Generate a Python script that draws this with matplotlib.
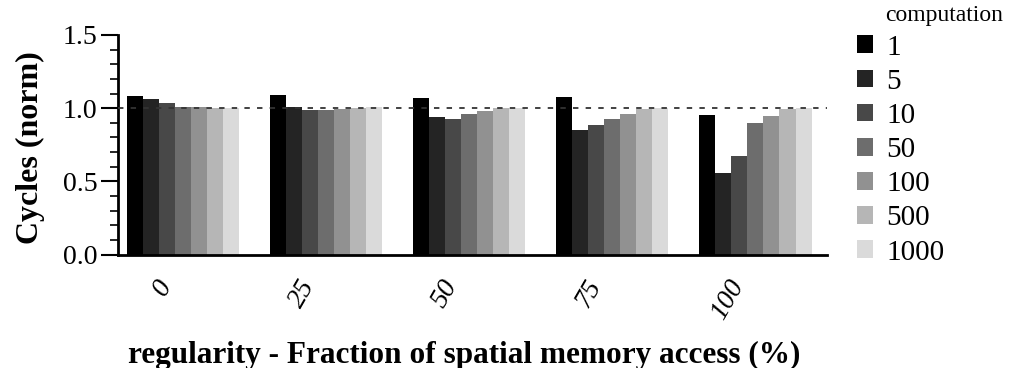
import numpy as np
import matplotlib.pyplot as plt
from matplotlib.patches import Patch
from matplotlib.ticker import MultipleLocator
from matplotlib.transforms import ScaledTranslation

plt.rcParams['font.family'] = ['Liberation Serif', 'DejaVu Serif']

# datos
regularity = ['0', '25', '50', '75', '100']
computation = ['1', '5', '10', '50', '100', '500', '1000']
cycles = {
    '1':    [1.085, 1.088, 1.069, 1.074, 0.954],
    '5':    [1.065, 1.005, 0.942, 0.848, 0.559],
    '10':   [1.037, 0.988, 0.926, 0.882, 0.674],
    '50':   [1.009, 0.988, 0.963, 0.926, 0.896],
    '100':  [1.005, 0.995, 0.982, 0.961, 0.945],
    '500':  [1.000, 1.000, 1.000, 0.995, 0.993],
    '1000': [1.000, 1.005, 1.000, 1.000, 1.000],
}
colores = ['#000000', '#242424', '#484848', '#6d6d6d', '#919191', '#b6b6b6', '#dadada']

fig = plt.figure(figsize=(10.1, 3.68), dpi=100)
ax = fig.add_axes([0.1168, 0.3084, 0.7020, 0.5965])

x = np.arange(len(regularity))
ancho = 0.112
n = len(computation)
for i, c in enumerate(computation):
    off = (i - (n - 1) / 2) * ancho
    ax.bar(x + off, cycles[c], ancho, color=colores[i], linewidth=0)

ax.axhline(1.0, color='#333333', lw=1.3, ls=(0, (3, 4)), zorder=3)

ax.set_xlim(-0.455, 4.5)
ax.set_ylim(0, 1.5)
ax.yaxis.set_major_locator(MultipleLocator(0.5))
ax.yaxis.set_minor_locator(MultipleLocator(0.1))
ax.tick_params(axis='y', which='major', length=12, width=1.5, labelsize=20, pad=3)
ax.tick_params(axis='y', which='minor', length=6, width=1.2)
ax.tick_params(axis='x', length=0, labelsize=20)
for s in ['top', 'right']:
    ax.spines[s].set_visible(False)
ax.spines['left'].set_linewidth(2)
ax.spines['bottom'].set_linewidth(2)

ax.set_xticks(x)
ax.set_xticklabels(regularity, rotation=60, ha='right', va='center',
                   rotation_mode='anchor', style='italic')
desp = ScaledTranslation(-0.17, -0.22, fig.dpi_scale_trans)
for lab in ax.get_xticklabels():
    lab.set_transform(lab.get_transform() + desp)

fig.text(0.030, 0.6, 'Cycles (norm)', fontsize=23, fontweight='bold',
         rotation=90, ha='center', va='center')
fig.text(0.460, 0.035, 'regularity - Fraction of spatial memory access (%)',
         fontsize=22.5, fontweight='bold', ha='center', va='center')

manijas = [Patch(facecolor=colores[i], edgecolor='none', label=c)
           for i, c in enumerate(computation)]
fig.legend(handles=manijas, loc='upper left', bbox_to_anchor=(0.8485, 0.906),
           frameon=False, fontsize=21, handlelength=0.55, handleheight=0.55,
           handletextpad=0.45, labelspacing=0.28, borderpad=0, borderaxespad=0)
fig.text(0.876, 0.958, 'computation', fontsize=17, ha='left', va='center')

plt.savefig('out.png', dpi=100)
